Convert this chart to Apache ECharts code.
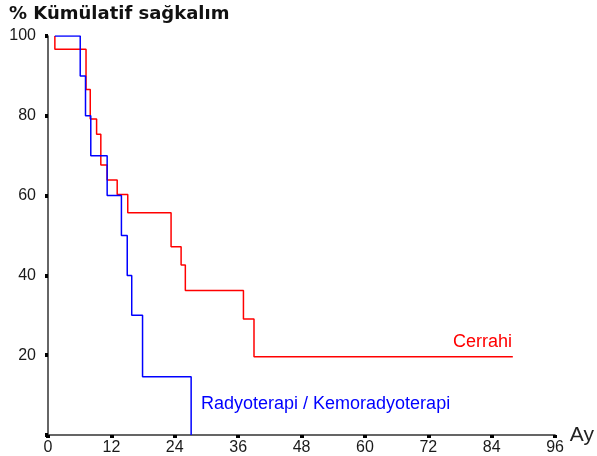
<!DOCTYPE html>
<html>
<head>
<meta charset="utf-8">
<script src="https://cdn.jsdelivr.net/npm/echarts@6/dist/echarts.min.js"></script>
<style>
html,body{margin:0;padding:0;background:#fff;}
#c{width:597px;height:456px;}
</style>
</head>
<body>
<div id="c"></div>
<script>
const xTicks = [0, 12, 24, 36, 48, 60, 72, 84, 96];
const yTicks = [0, 20, 40, 60, 80, 100];

const cerrahiMonths = [1.3, 1.3, 7.2, 8.0, 9.2, 10.0, 11.2, 13.1, 15.1, 23.3, 25.2, 26.0, 37.0, 39.0, 88.0];
const cerrahiSurv   = [100, 96.7, 86.6, 79.2, 75.4, 67.7, 63.9, 60.3, 55.7, 47.2, 42.6, 36.2, 29.1, 19.6, 19.6];

const radyoMonths = [1.3, 6.1, 7.1, 8.1, 11.2, 13.9, 15.0, 15.85, 17.9, 27.1];
const radyoSurv   = [100, 90, 80, 70, 60, 50, 40, 30, 14.6, 0];

const titleText = '% Kümülatif sağkalım';
const xName = 'Ay';
const labelCerrahi = 'Cerrahi';
const labelRadyo = 'Radyoterapi / Kemoradyoterapi';

const chart = echarts.init(document.getElementById('c'), null, {renderer: 'canvas'});
const font = 'Liberation Sans, Arial, sans-serif';

chart.setOption({
  animation: false,
  backgroundColor: '#fff',
  grid: {left: 48, right: 38, top: 36, bottom: 21, containLabel: false},
  xAxis: {
    type: 'value', min: xTicks[0], max: xTicks[xTicks.length-1], interval: 12,
    name: xName, nameLocation: 'end', nameGap: 12,
    nameTextStyle: {fontFamily: font, fontSize: 21, color: '#222', verticalAlign: 'middle', padding: [0,0,0,0]},
    axisLine: {onZero: false, lineStyle: {color: '#333', width: 1.5}},
    axisTick: {show: true, length: 3, lineStyle: {color: '#000', width: 4}},
    axisLabel: {fontFamily: font, fontSize: 16, color: '#1a1a1a', margin: 5},
    splitLine: {show: false}
  },
  yAxis: {
    type: 'value', min: yTicks[0], max: yTicks[yTicks.length-1], interval: 20,
    axisLine: {show: true, onZero: false, lineStyle: {color: '#333', width: 1.5}},
    axisTick: {show: true, length: 3, lineStyle: {color: '#000', width: 4}},
    axisLabel: {fontFamily: font, fontSize: 16, color: '#1a1a1a', margin: 12,
      formatter: v => v === 0 ? '' : String(v)},
    splitLine: {show: false}
  },
  series: [
    {
      type: 'line', step: 'end', symbol: 'none',
      data: cerrahiMonths.map((m, i) => [m, cerrahiSurv[i]]),
      lineStyle: {color: '#ff0000', width: 1.5},
      itemStyle: {color: '#ff0000'}
    },
    {
      type: 'line', step: 'end', symbol: 'none',
      data: radyoMonths.map((m, i) => [m, radyoSurv[i]]),
      lineStyle: {color: '#0000ff', width: 1.5},
      itemStyle: {color: '#0000ff'}
    }
  ],
  graphic: [
    {type: 'text', left: 9, top: 5,
     style: {text: titleText, font: 'bold 18px "DejaVu Sans", sans-serif', fill: '#111'}},
    {type: 'text', right: 85, top: 333,
     style: {text: labelCerrahi, font: '18px "Liberation Sans", Arial, sans-serif', fill: '#ff0000'}},
    {type: 'text', left: 201, top: 395,
     style: {text: labelRadyo, font: '18px "Liberation Sans", Arial, sans-serif', fill: '#0000ff'}}
  ]
});
</script>
</body>
</html>
